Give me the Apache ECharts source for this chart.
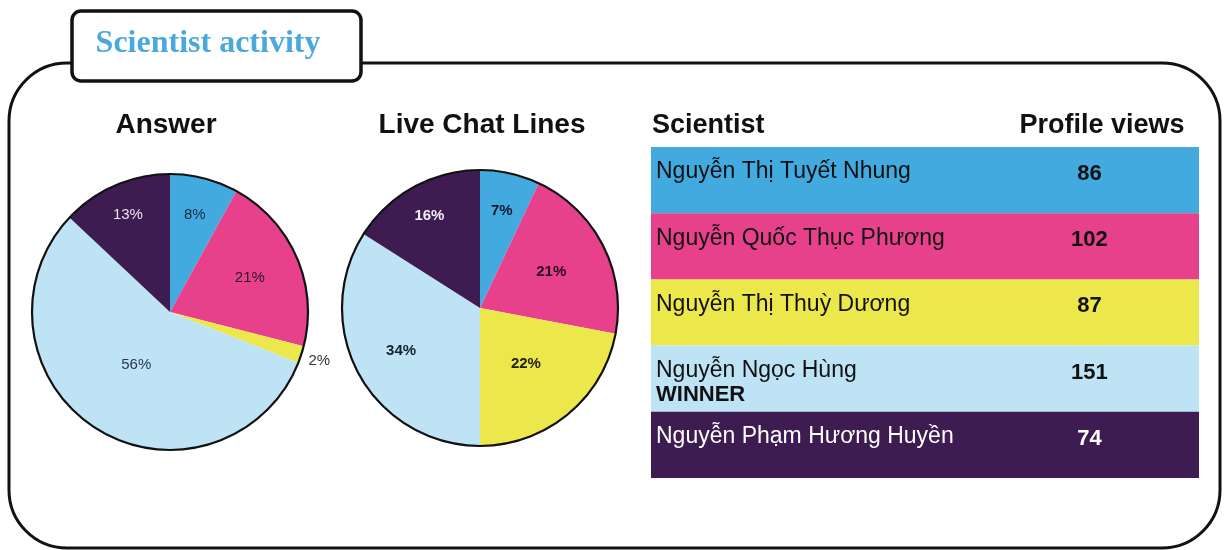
<!DOCTYPE html>
<html>
<head>
<meta charset="utf-8">
<script src="https://cdn.jsdelivr.net/npm/echarts@6/dist/echarts.min.js"></script>
<style>
html,body{margin:0;padding:0;background:#fff;}
#chart{width:1225px;height:550px;}
</style>
</head>
<body>
<div id="chart"></div>
<script>
// ---- Data ----
const sliceNames = ['Nguyễn Thị Tuyết Nhung', 'Nguyễn Quốc Thục Phương', 'Nguyễn Thị Thuỳ Dương', 'Nguyễn Ngọc Hùng', 'Nguyễn Phạm Hương Huyền'];
const answerValues = [8, 21, 2, 56, 13];
const chatValues = [7, 21, 22, 34, 16];
const scientists = ['Nguyễn Thị Tuyết Nhung', 'Nguyễn Quốc Thục Phương', 'Nguyễn Thị Thuỳ Dương', 'Nguyễn Ngọc Hùng', 'Nguyễn Phạm Hương Huyền'];
const profileViews = [86, 102, 87, 151, 74];
const notes = ['', '', '', 'WINNER', ''];
const mainTitle = 'Scientist activity';
const pieTitles = ['Answer', 'Live Chat Lines'];
const tableHeaders = ['Scientist', 'Profile views'];

// ---- Style ----
const colors = ['#42aadf', '#e8418b', '#ece84c', '#bde3f5', '#3e1b50'];
const SANS = '"Liberation Sans", Arial, sans-serif';
const pieR = 138;
const pie1C = [170, 312];
const pie2C = [480, 308];
const ans_labelR = [100, 87, 157, 63, 106];
const chat_labelR = [100, 80, 72, 90, 105];
const ans_labelColor = ['#1b2940', '#2b1426', '#333333', '#2a3a50', '#ece4f2'];
const chat_labelColor = ['#111a2a', '#2a0b1a', '#222210', '#14202c', '#f4f0f6'];
const rowText = ['#111', '#111', '#111', '#111', '#fff'];

function labelPositions(values, center, radii) {
  const total = values.reduce((a, b) => a + b, 0);
  let acc = 0;
  return values.map((v, i) => {
    const mid = (acc + v / 2) / total * 2 * Math.PI;
    acc += v;
    return [center[0] + radii[i] * Math.sin(mid), center[1] - radii[i] * Math.cos(mid)];
  });
}
const ansPos = labelPositions(answerValues, pie1C, ans_labelR);
const chatPos = labelPositions(chatValues, pie2C, chat_labelR);

function pieSeries(values, center, labelColors, pos, bold) {
  return {
    type: 'pie',
    center: center,
    radius: pieR,
    startAngle: 90,
    clockwise: true,
    silent: true,
    avoidLabelOverlap: false,
    data: values.map((v, i) => ({
      name: sliceNames[i], value: v,
      itemStyle: { color: colors[i] },
      label: { color: labelColors[i] }
    })),
    itemStyle: { borderWidth: 0 },
    label: {
      show: true, position: 'inside',
      formatter: '{c}%',
      fontFamily: SANS, fontSize: 15, fontWeight: bold ? 'bold' : 'normal'
    },
    labelLine: { show: false },
    labelLayout: function (p) {
      const q = pos[p.dataIndex];
      return { x: q[0], y: q[1], align: 'center', verticalAlign: 'middle' };
    }
  };
}

const chart = echarts.init(document.getElementById('chart'), null, { renderer: 'canvas' });

const option = {
  backgroundColor: '#fff',
  animation: false,
  grid: { left: 651, top: 147, width: 548, height: 331 },
  xAxis: { type: 'value', min: 0, max: 1, show: false },
  yAxis: { type: 'category', data: scientists, inverse: true, show: false },
  series: [
    pieSeries(answerValues, pie1C, ans_labelColor, ansPos, false),
    pieSeries(chatValues, pie2C, chat_labelColor, chatPos, true),
    {
      type: 'custom',
      silent: true,
      data: scientists.map((n, i) => [0, i, profileViews[i]]),
      renderItem: function (params, api) {
        const idx = api.value(1);
        const c = api.coord([0, idx]);
        const h = api.size([0, 1])[1];
        const cs = params.coordSys;
        const top = c[1] - h / 2;
        const children = [
          { type: 'rect', shape: { x: cs.x, y: top, width: cs.width, height: h }, style: { fill: colors[idx] } },
          { type: 'text', style: { text: scientists[idx], x: cs.x + 5, y: top + 25, verticalAlign: 'middle', fill: rowText[idx], font: '23px ' + SANS } },
          { type: 'text', style: { text: String(api.value(2)), x: cs.x + cs.width * 0.8, y: top + 27, align: 'center', verticalAlign: 'middle', fill: rowText[idx], font: 'bold 22px ' + SANS } }
        ];
        if (notes[idx]) {
          children.push({ type: 'text', style: { text: notes[idx], x: cs.x + 5, y: top + 49, verticalAlign: 'middle', fill: rowText[idx], font: 'bold 22px ' + SANS } });
        }
        return { type: 'group', children: children };
      }
    }
  ],
  graphic: [
    { type: 'rect', z: 0, shape: { x: 9, y: 63, width: 1211, height: 485, r: 58 }, style: { fill: 'none', stroke: '#111', lineWidth: 3 } },
    { type: 'rect', z: 10, shape: { x: 72, y: 11, width: 289, height: 70, r: 9 }, style: { fill: '#fff', stroke: '#111', lineWidth: 3.5 } },
    { type: 'text', z: 11, style: { text: mainTitle, x: 208, y: 44, align: 'center', verticalAlign: 'middle', fill: '#4aa8dc', font: 'bold 32px "Liberation Serif", "Times New Roman", serif' } },
    { type: 'text', z: 11, style: { text: pieTitles[0], x: 166, y: 125, align: 'center', verticalAlign: 'middle', fill: '#111', font: 'bold 28px ' + SANS } },
    { type: 'text', z: 11, style: { text: pieTitles[1], x: 482, y: 125, align: 'center', verticalAlign: 'middle', fill: '#111', font: 'bold 28px ' + SANS } },
    { type: 'text', z: 11, style: { text: tableHeaders[0], x: 652, y: 126, align: 'left', verticalAlign: 'middle', fill: '#111', font: 'bold 27px ' + SANS } },
    { type: 'text', z: 11, style: { text: tableHeaders[1], x: 1102, y: 126, align: 'center', verticalAlign: 'middle', fill: '#111', font: 'bold 27px ' + SANS } },
    { type: 'circle', z: 20, shape: { cx: pie1C[0], cy: pie1C[1], r: pieR }, style: { fill: 'none', stroke: '#111', lineWidth: 2.2 } },
    { type: 'circle', z: 20, shape: { cx: pie2C[0], cy: pie2C[1], r: pieR }, style: { fill: 'none', stroke: '#111', lineWidth: 2.2 } }
  ]
};
chart.setOption(option);
</script>
</body>
</html>
